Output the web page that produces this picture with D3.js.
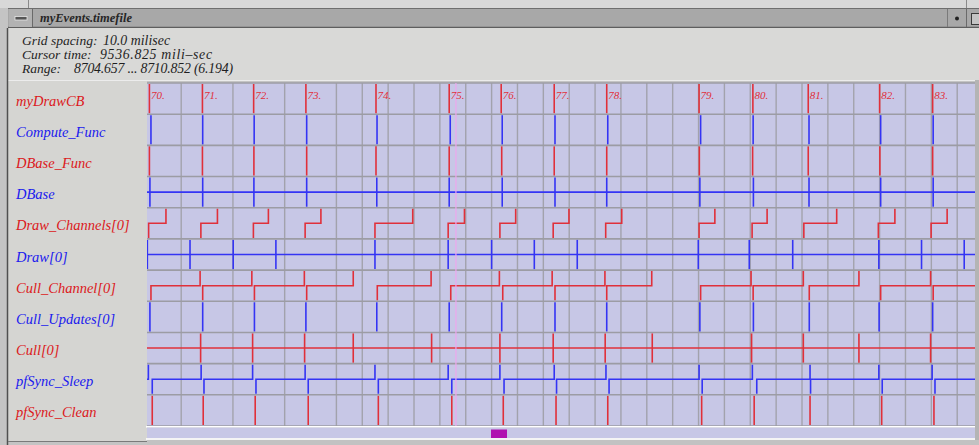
<!DOCTYPE html>
<html>
<head>
<meta charset="utf-8">
<script src="https://cdn.jsdelivr.net/npm/d3@7"></script>
<style>
  html, body { margin: 0; padding: 0; background: #c8c8c8; }
  svg { display: block; }
  text { font-family: "Liberation Serif", "DejaVu Serif", serif; }
</style>
</head>
<body>
<svg id="chart" width="979" height="445"></svg>
<script>
// ---------------- DATA (times in milliseconds, relative to first grid line) ----------------
const windowTitle = "myEvents.timefile";
const infoLabels = ["Grid spacing:", "Cursor time:", "Range:"];
const infoValues = ["10.0 milisec", "9536.825 mili\u2013sec", "8704.657 ... 8710.852 (6.194)"];

const signals = ["myDrawCB", "Compute_Func", "DBase_Func", "DBase", "Draw_Channels[0]",
  "Draw[0]", "Cull_Channel[0]", "Cull_Updates[0]", "Cull[0]", "pfSync_Sleep", "pfSync_Clean"];

const gridTicks = [10, 30, 50, 70, 80, 90, 100, 110, 120, 130, 140, 150, 160,
  170, 180, 190, 200, 210, 220, 230, 240, 250, 260, 270, 280, 290, 300, 310];

const cursorTime = 116.4;

const frameLabels = ["70.", "71.", "72.", "73.", "74.", "75.", "76.", "77.", "78.", "79.", "80.", "81.", "82.", "83."];
const frameStarts = [-2.1, 18.4, 38.2, 58.4, 85.5, 113.8, 133.9, 154.4, 174.7, 210.4, 231.2, 252.6, 280.2, 300.7];

const computeFunc = [-1.5, 18.5, 38.4, 58.7, 85.9, 114.2, 134.3, 154.7, 175.1, 211.0, 231.3, 252.9, 280.6, 300.9];
const dbaseFunc = [-2.1, 18.4, 38.3, 58.7, 85.5, 113.8, 134.1, 154.4, 174.7, 210.5, 231.1, 252.6, 280.3, 300.7];
const dbase = [-1.9, 18.5, 38.3, 58.7, 85.8, 113.8, 134.3, 154.7, 174.7, 210.7, 231.4, 252.9, 280.6, 300.9];

const drawChannelsStart = [-2.4, 17.8, 38.1, 58.1, 85.1, 113.4, 133.4, 154.0, 174.3, 210.4, 230.9, 250.9, 279.7, 300.1];
const drawChannelsEnd   = [4.3, 24.2, 43.9, 64.2, 99.7, 119.7, 139.5, 160.1, 180.5, 216.5, 236.7, 263.6, 286.1, 306.3];

const draw0 = [-2.9, 13.6, 30.3, 46.8, 85.1, 113.4, 130.2, 146.7, 163.3, 210.1, 229.8, 246.6, 279.9, 296.4, 312.9];

const cullChannelStart = [-1.5, 18.5, 38.5, 58.7, 86.0, 114.4, 134.5, 154.7, 174.7, 211.0, 231.3, 253.0, 280.6, 300.9];
const cullChannelEnd   = [17.5, 37.5, 57.8, 76.7, 106.8, 133.2, 153.6, 174.0, 192.1, 230.5, 250.7, 272.2, 299.9, null];

const cullUpdates = [-1.9, 18.5, 38.5, 58.4, 85.8, 113.8, 134.1, 154.7, 174.7, 210.7, 231.4, 253.0, 280.0, 300.7];

const cull = [17.7, 37.8, 57.9, 76.7, 107.0, 133.4, 154.0, 174.1, 192.3, 230.7, 250.7, 272.2, 299.9];

const syncSleepStart = [null, -1.0, 19.0, 39.1, 59.3, 86.4, 114.8, 135.0, 155.3, 175.6, 211.6, 232.7, 253.5, 281.2, 301.6];
const syncSleepEnd   = [-2.5, 17.9, 37.8, 58.1, 85.1, 113.4, 133.4, 154.4, 174.4, 210.4, 231.0, 253.3, 279.9, 300.5, null];

const syncClean = [-1.0, 18.7, 38.8, 59.3, 86.4, 114.8, 134.7, 155.1, 175.1, 211.4, 231.7, 253.3, 281.0, 301.2];

// ---------------- LAYOUT ----------------
const W = 979, H = 445;
const plot = { left: 147, right: 975, top: 83, bottom: 426 };
const RED = "#e0303a", BLUE = "#3434f4";
const LABEL_RED = "#dc1820", LABEL_BLUE = "#1a1aee";

const svg = d3.select("#chart");

const x = d3.scaleLinear().domain([-3.03, 317.07]).range([plot.left, plot.right]);
const y = d3.scaleBand().domain(signals).range([plot.top, plot.bottom]).paddingInner(0).paddingOuter(0);
const bw = y.bandwidth();
const colorOf = s => (signals.indexOf(s) % 2 === 0 ? RED : BLUE);

// ---------------- WINDOW CHROME ----------------
svg.append("rect").attr("x", 0).attr("y", 0).attr("width", W).attr("height", H).attr("fill", "#c4c4c4");
svg.append("rect").attr("x", 0).attr("y", 0).attr("width", W).attr("height", 8).attr("fill", "#d8d8d8");
svg.append("line").attr("x1", 28.5).attr("x2", 28.5).attr("y1", 0).attr("y2", 8).attr("stroke", "#8a8a8a");
svg.append("line").attr("x1", 966.5).attr("x2", 966.5).attr("y1", 0).attr("y2", 8).attr("stroke", "#8a8a8a");

// title bar
svg.append("rect").attr("x", 8).attr("y", 8).attr("width", W - 8).attr("height", 20).attr("fill", "#a8a8a8");
svg.append("line").attr("x1", 8).attr("x2", W).attr("y1", 8.5).attr("y2", 8.5).attr("stroke", "#6e6e6e");
svg.append("line").attr("x1", 8).attr("x2", W).attr("y1", 27.5).attr("y2", 27.5).attr("stroke", "#5e5e5e").attr("stroke-width", 1.5);
svg.append("rect").attr("x", 9).attr("y", 9).attr("width", 23).attr("height", 18).attr("fill", "#b2b2b2");
svg.append("line").attr("x1", 32.5).attr("x2", 32.5).attr("y1", 9).attr("y2", 27).attr("stroke", "#6a6a6a");
svg.append("rect").attr("x", 15).attr("y", 16.5).attr("width", 12).attr("height", 3.5)
  .attr("fill", "#555").attr("stroke", "#e6e6e6").attr("stroke-width", 0.8);
svg.append("text").attr("x", 40).attr("y", 22).attr("font-size", 12.5).attr("font-style", "italic")
  .attr("font-weight", "bold").attr("fill", "#262626").text(windowTitle);
svg.append("line").attr("x1", 947.5).attr("x2", 947.5).attr("y1", 9).attr("y2", 27).attr("stroke", "#7a7a7a");
svg.append("circle").attr("cx", 957).attr("cy", 18.5).attr("r", 2).attr("fill", "#222");
svg.append("line").attr("x1", 966.5).attr("x2", 966.5).attr("y1", 9).attr("y2", 27).attr("stroke", "#6a6a6a");
svg.append("rect").attr("x", 971.5).attr("y", 13.5).attr("width", 10).attr("height", 11)
  .attr("fill", "#c4c4c4").attr("stroke", "#3a3a3a");

// info area
svg.append("rect").attr("x", 8).attr("y", 28).attr("width", W - 8).attr("height", 52).attr("fill", "#d9d9d7");
const infoY = [44.5, 58.5, 72.5];
const infoValueX = [103, 100, 74];
const infoValueW = [67, 112, 159];
infoLabels.forEach((t, i) => {
  svg.append("text").attr("x", 22).attr("y", infoY[i]).attr("font-size", 13.5)
    .attr("font-style", "italic").attr("fill", "#1e1e1e").text(t);
  svg.append("text").attr("x", infoValueX[i]).attr("y", infoY[i]).attr("font-size", 13.8)
    .attr("font-style", "italic").attr("fill", "#1e1e1e")
    .attr("textLength", infoValueW[i]).attr("lengthAdjust", "spacing").text(infoValues[i]);
});

// label panel
svg.append("rect").attr("x", 8).attr("y", 80).attr("width", 139).attr("height", 361).attr("fill", "#d5d5d2");
svg.append("line").attr("x1", 8).attr("x2", W).attr("y1", 80.5).attr("y2", 80.5).attr("stroke", "#ececec");
svg.append("line").attr("x1", 7.5).attr("x2", 7.5).attr("y1", 28).attr("y2", H).attr("stroke", "#505050").attr("stroke-width", 1.5);
svg.append("line").attr("x1", 8).attr("x2", 147).attr("y1", 441.5).attr("y2", 441.5).attr("stroke", "#7a7a7a");

// signal labels
svg.append("g").selectAll("text").data(signals).join("text")
  .attr("x", 16)
  .attr("y", d => y(d) + bw / 2 + 7)
  .attr("font-size", 14.5)
  .attr("font-style", "italic")
  .attr("fill", (d, i) => (i % 2 === 0 ? LABEL_RED : LABEL_BLUE))
  .text(d => d);

// ---------------- PLOT AREA ----------------
svg.append("rect").attr("x", plot.left).attr("y", plot.top)
  .attr("width", plot.right - plot.left).attr("height", plot.bottom - plot.top).attr("fill", "#c7c7e6");

svg.append("defs").append("clipPath").attr("id", "clip")
  .append("rect").attr("x", plot.left).attr("y", plot.top)
  .attr("width", plot.right - plot.left).attr("height", plot.bottom - plot.top);

const gridG = svg.append("g").attr("transform", `translate(0,${plot.top})`)
  .call(d3.axisBottom(x).tickValues(gridTicks).tickSize(plot.bottom - plot.top).tickFormat(""));
gridG.select(".domain").remove();
gridG.selectAll(".tick line").attr("stroke", "#a2a2ac").attr("stroke-width", 1.4);

const rowEdges = signals.map(s => y(s)).concat([plot.bottom]);
svg.append("g").selectAll("line").data(rowEdges).join("line")
  .attr("x1", plot.left).attr("x2", plot.right)
  .attr("y1", d => d).attr("y2", d => d)
  .attr("stroke", "#9c9ca4").attr("stroke-width", 1.6);

const traces = svg.append("g").attr("clip-path", "url(#clip)")
  .attr("fill", "none").attr("stroke-width", 1.6);

function pulses(sig, times) {
  traces.append("g").selectAll("line").data(times).join("line")
    .attr("x1", d => x(d)).attr("x2", d => x(d))
    .attr("y1", y(sig) + 1).attr("y2", y(sig) + bw - 1)
    .attr("stroke", colorOf(sig));
}
function midLine(sig) {
  const ym = y(sig) + bw / 2;
  traces.append("line").attr("x1", plot.left).attr("x2", plot.right)
    .attr("y1", ym).attr("y2", ym).attr("stroke", colorOf(sig));
}
function steps(sig, starts, ends) {
  const top = y(sig) + 1, bot = y(sig) + bw - 1, mid = y(sig) + bw / 2;
  const segs = starts.map((s, i) => [s, ends[i]]);
  traces.append("g").selectAll("path").data(segs).join("path")
    .attr("d", ([s, e]) => {
      const p = d3.path();
      if (s === null) p.moveTo(plot.left, mid);
      else { p.moveTo(x(s), bot); p.lineTo(x(s), mid); }
      if (e === null) p.lineTo(plot.right, mid);
      else { p.lineTo(x(e), mid); p.lineTo(x(e), top); }
      return p.toString();
    })
    .attr("stroke", colorOf(sig));
}

svg.append("line").attr("x1", x(cursorTime)).attr("x2", x(cursorTime))
  .attr("y1", plot.top).attr("y2", plot.bottom).attr("stroke", "#eea6ee").attr("stroke-width", 1.2);

pulses("myDrawCB", frameStarts);
pulses("Compute_Func", computeFunc);
pulses("DBase_Func", dbaseFunc);
midLine("DBase"); pulses("DBase", dbase);
steps("Draw_Channels[0]", drawChannelsStart, drawChannelsEnd);
midLine("Draw[0]"); pulses("Draw[0]", draw0);
steps("Cull_Channel[0]", cullChannelStart, cullChannelEnd);
pulses("Cull_Updates[0]", cullUpdates);
midLine("Cull[0]"); pulses("Cull[0]", cull);
steps("pfSync_Sleep", syncSleepStart, syncSleepEnd);
pulses("pfSync_Clean", syncClean);

svg.append("g").selectAll("text").data(frameStarts).join("text")
  .attr("x", d => x(d) + 1.5)
  .attr("y", plot.top + 15.5)
  .attr("font-size", 11)
  .attr("font-style", "italic")
  .attr("fill", "#e0303a")
  .text((d, i) => frameLabels[i]);

// ---------------- BOTTOM SCROLLBAR ----------------
svg.append("rect").attr("x", 146).attr("y", 426).attr("width", 830).attr("height", 1.6).attr("fill", "#ffffff");
svg.append("rect").attr("x", 147).attr("y", 427.6).attr("width", 828).attr("height", 10.6).attr("fill", "#c7c7e6");
svg.append("rect").attr("x", 146).attr("y", 438.2).attr("width", 830).attr("height", 1.6).attr("fill", "#ffffff");
svg.append("rect").attr("x", 491).attr("y", 429.5).attr("width", 16).attr("height", 8.5).attr("fill", "#b012b0");
svg.append("rect").attr("x", 975).attr("y", 80).attr("width", 4).attr("height", 365).attr("fill", "#b4b4b4");
svg.append("rect").attr("x", 147).attr("y", 440).attr("width", 832).attr("height", 5).attr("fill", "#c2c2c2");
</script>
</body>
</html>
